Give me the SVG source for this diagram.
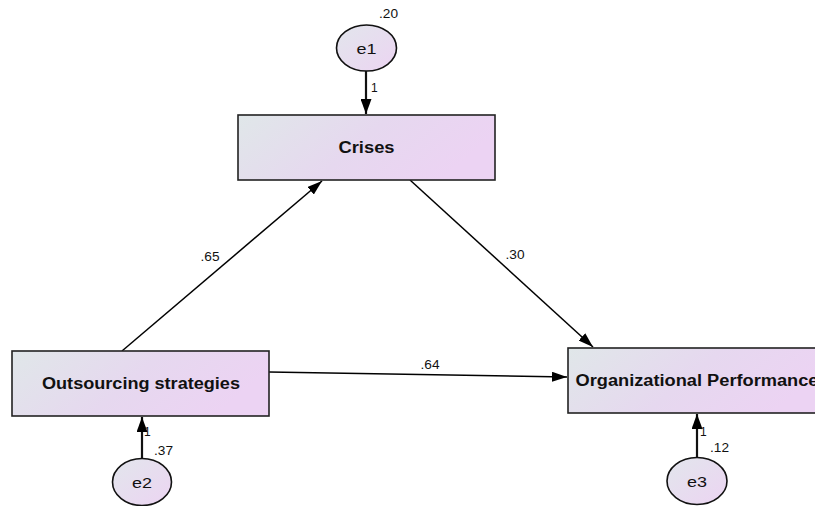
<svg xmlns="http://www.w3.org/2000/svg" width="815" height="506" viewBox="0 0 815 506">
<defs>
<linearGradient id="gBox" x1="0" y1="0" x2="1" y2="0.3">
<stop offset="0" stop-color="#e0e7e9"/>
<stop offset="0.55" stop-color="#e6d8ef"/>
<stop offset="1" stop-color="#ecd3f3"/>
</linearGradient>
<linearGradient id="gEll" x1="0" y1="0" x2="1" y2="1">
<stop offset="0" stop-color="#e2e6ec"/>
<stop offset="1" stop-color="#ecd4f2"/>
</linearGradient>
<marker id="ah" markerUnits="userSpaceOnUse" markerWidth="15" markerHeight="10" refX="15" refY="5" orient="auto">
<path d="M0,0 L15,5 L0,10 z" fill="#000"/>
</marker>
<marker id="ahb" markerUnits="userSpaceOnUse" markerWidth="15" markerHeight="11" refX="15" refY="5.5" orient="auto">
<path d="M0,0 L15,5.5 L0,11 z" fill="#000"/>
</marker>
</defs>
<style>
.box{fill:url(#gBox);stroke:#222;stroke-width:1.6}
.ell{fill:url(#gEll);stroke:#111;stroke-width:1.6}
.lbl{font-family:"Liberation Sans",Arial,sans-serif;font-weight:bold;font-size:16px;fill:#111;text-anchor:middle}
.en{font-family:"Liberation Sans",Arial,sans-serif;font-size:15.5px;fill:#111;text-anchor:middle}
.num{font-family:"Liberation Sans",Arial,sans-serif;font-size:12px;fill:#111}
.c{fill:none;stroke:#000;stroke-width:1.5}
.cb{fill:none;stroke:#111;stroke-width:2.2}
</style>
<rect width="815" height="506" fill="#fff"/>
<g id="connectors">
<line class="c" x1="122" y1="351" x2="322" y2="181" marker-end="url(#ah)"/>
<line class="c" x1="410" y1="180" x2="593" y2="347" marker-end="url(#ah)"/>
<line class="c" x1="269" y1="372" x2="567" y2="377" marker-end="url(#ah)"/>
<line class="cb" x1="366" y1="71" x2="366" y2="114" marker-end="url(#ahb)"/>
<line class="cb" x1="142" y1="458" x2="142" y2="417" marker-end="url(#ahb)"/>
<line class="cb" x1="697" y1="458" x2="697" y2="414" marker-end="url(#ahb)"/>
<text class="num" x="210" y="261" text-anchor="middle" textLength="19" lengthAdjust="spacingAndGlyphs">.65</text>
<text class="num" x="515" y="259" text-anchor="middle" textLength="19" lengthAdjust="spacingAndGlyphs">.30</text>
<text class="num" x="430" y="369" text-anchor="middle" textLength="19" lengthAdjust="spacingAndGlyphs">.64</text>
<text class="num" x="371" y="92">1</text>
<text class="num" x="144" y="436">1</text>
<text class="num" x="700" y="436">1</text>
</g>
<g id="e1">
<ellipse class="ell" cx="366.5" cy="48" rx="30" ry="23"/>
<text class="en" x="366.5" y="53.5" textLength="20" lengthAdjust="spacingAndGlyphs">e1</text>
<text class="num" x="379" y="18" textLength="19" lengthAdjust="spacingAndGlyphs">.20</text>
</g>
<g id="crises">
<rect class="box" x="238" y="115" width="257" height="65"/>
<text class="lbl" x="366.5" y="153" textLength="56" lengthAdjust="spacingAndGlyphs">Crises</text>
</g>
<g id="outsourcing">
<rect class="box" x="12" y="351" width="257" height="65"/>
<text class="lbl" x="141" y="389" textLength="198" lengthAdjust="spacingAndGlyphs">Outsourcing strategies</text>
</g>
<g id="e2">
<ellipse class="ell" cx="142" cy="482" rx="29.5" ry="23.5"/>
<text class="en" x="142" y="488" textLength="20" lengthAdjust="spacingAndGlyphs">e2</text>
<text class="num" x="154" y="455" textLength="19" lengthAdjust="spacingAndGlyphs">.37</text>
</g>
<g id="org">
<rect class="box" x="568" y="348" width="260" height="65"/>
<text class="lbl" x="697" y="386" textLength="243" lengthAdjust="spacingAndGlyphs">Organizational Performance</text>
</g>
<g id="e3">
<ellipse class="ell" cx="697" cy="481" rx="30" ry="23.5"/>
<text class="en" x="697" y="487" textLength="20" lengthAdjust="spacingAndGlyphs">e3</text>
<text class="num" x="710" y="452" textLength="19" lengthAdjust="spacingAndGlyphs">.12</text>
</g>
</svg>
